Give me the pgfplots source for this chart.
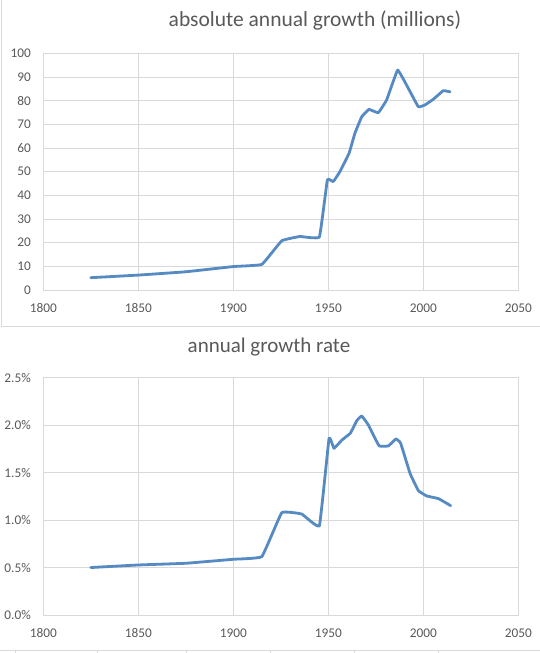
\documentclass[border=0pt]{standalone}
\usepackage{pgfplots}
\pgfplotsset{compat=1.18}
\usepackage{fontspec}
\setmainfont{Carlito}
\definecolor{txt}{HTML}{595959}
\definecolor{grd}{HTML}{D9D9D9}
\definecolor{ln}{RGB}{86,138,194}
\pgfplotsset{
  mystyle/.style={
    scale only axis, width=475pt,
    xmin=1800, xmax=2050, xtick={1800,1850,1900,1950,2000,2050},
    grid=major, major grid style={draw=grd, line width=0.8pt},
    axis line style={draw=grd, line width=0.8pt},
    major tick length=0pt,
    tick label style={font=\fontsize{13.3}{15}\selectfont, text=txt},
    /pgf/number format/assume math mode=true,
    /pgf/number format/1000 sep={},
    xticklabel style={anchor=base, yshift=-22.3pt},
    yticklabel style={anchor=east, xshift=-9pt},
    every axis plot/.style={draw=ln, line width=2.8pt, line join=round, line cap=round},
  }
}
\begin{document}
\begin{tikzpicture}[x=1pt,y=1pt]
\useasboundingbox (0,0) rectangle (540,653);
\draw[grd, line width=0.8pt] (1,653) -- (1,327) -- (540,327);
\draw[grd, line width=0.8pt] (0,2.3) -- (540,2.3);
\foreach \xx in {15,97.3,186.7,270,354.3,438.3} \draw[grd, line width=0.8pt] (\xx,0) -- (\xx,2.3);
\node[anchor=base, text=txt, font=\fontsize{21.5}{24}\selectfont] at (315,626) {absolute annual growth (millions)};
\node[anchor=base, text=txt, font=\fontsize{21}{24}\selectfont] at (269,300.3) {annual growth rate};
\begin{axis}[mystyle, at={(43.3pt,363pt)}, anchor=south west, height=236.7pt,
  ymin=0, ymax=100, ytick={0,10,...,100}]
\addplot[smooth, tension=0.15] coordinates {
(1825,5.2) (1850,6.3) (1875,7.7) (1900,9.9) (1915,10.8)
(1925.5,20.8) (1935,22.6) (1945.3,22.4) (1949.5,46.5) (1952.6,45.8)
(1956.1,50.0) (1960.9,57.7) (1964,66.2) (1967.6,73.2) (1971.4,76.3)
(1976.3,74.9) (1980.7,80.3) (1986.5,92.9) (1992.1,85.2) (1997.4,77.4)
(2000.9,78.2) (2005.3,80.6) (2010.5,84.2) (2014.1,83.7)
};
\end{axis}
\begin{axis}[mystyle, at={(43.3pt,38pt)}, anchor=south west, height=237.3pt,
  ymin=0, ymax=2.5, ytick={0,0.5,...,2.5},
  yticklabel={\pgfmathprintnumber[fixed,fixed zerofill,precision=1]{\tick}\%}]
\addplot[smooth, tension=0.15] coordinates {
(1825,0.50) (1850,0.527) (1875,0.545) (1900,0.587) (1915,0.615)
(1925.5,1.078) (1936,1.064) (1945.3,0.94) (1950.4,1.862) (1953,1.756)
(1957.2,1.844) (1961.6,1.915) (1965,2.048) (1967.6,2.097) (1971.1,2.002)
(1973.7,1.897) (1976.8,1.781) (1981.6,1.781) (1985.6,1.855) (1988.1,1.809)
(1993,1.493) (1997.4,1.31) (2001.8,1.254) (2008,1.226) (2014.4,1.152)
};
\end{axis}
\end{tikzpicture}
\end{document}
